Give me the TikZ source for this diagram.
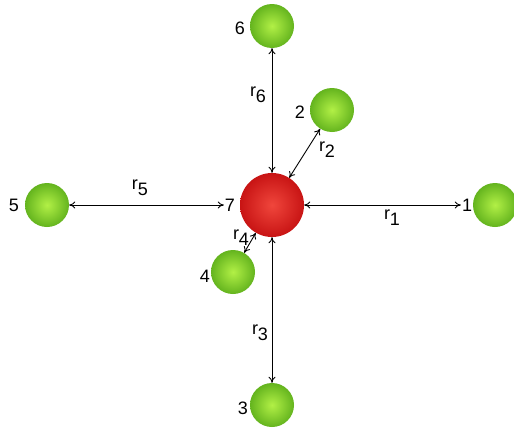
\documentclass[tikz,border=0pt]{standalone}
\usepackage{fontspec}
\setmainfont{Liberation Sans}
\usetikzlibrary{arrows.meta,positioning}
\definecolor{limein}{RGB}{178,240,70}
\definecolor{limeout}{RGB}{100,180,30}
\definecolor{redin}{RGB}{240,70,60}
\definecolor{redout}{RGB}{200,20,20}
\tikzset{
    atom/.style={circle, inner sep=0pt, minimum size=44pt,
        inner color=limein, outer color=limeout},
    coreatom/.style={circle, inner sep=0pt, minimum size=64pt,
        inner color=redin, outer color=redout},
    numlbl/.style={inner sep=1pt, font=\fontsize{18}{20}\selectfont},
    distlbl/.style={inner sep=1pt, font=\fontsize{18}{20}\selectfont},
    distarrow/.style={{To[length=6pt,width=7pt]}-{To[length=6pt,width=7pt]}, line width=0.9pt}
}
\newcommand{\rdist}[1]{r\raisebox{-6pt}{#1}}

\begin{document}
\begin{tikzpicture}[x=1pt, y=-1pt]
\useasboundingbox (0,0) rectangle (514,431);
\fill[white] (0,0) rectangle (514,431);
% atoms
\node[coreatom] (b7) at (272,205) {};
\node[atom] (b1) at (495,205) {};
\node[atom] (b2) at (332,110) {};
\node[atom] (b3) at (272,405) {};
\node[atom] (b4) at (233,272) {};
\node[atom] (b5) at (47,205) {};
\node[atom] (b6) at (272,26) {};
% numbers
\node[numlbl] (l1) at (467,205) {1};
\node[numlbl] (l2) at (300,112) {2};
\node[numlbl] (l3) at (243,408) {3};
\node[numlbl] (l4) at (205,276) {4};
\node[numlbl] (l5) at (14,205) {5};
\node[numlbl] (l6) at (240,28) {6};
\node[numlbl] (l7) at (230,205) {7};
% distances
\draw[distarrow] (b7) -- (l1);
\draw[distarrow] (b2) -- (b7);
\draw[distarrow] (b7) -- (b3);
\draw[distarrow] (b4) -- (b7);
\draw[distarrow] (b5) -- (l7);
\draw[distarrow] (b6) -- (b7);
\node[distlbl] (r1) at (392,218) {\rdist{1}};
\node[distlbl] (r2) at (327,150) {\rdist{2}};
\node[distlbl] (r3) at (260,333) {\rdist{3}};
\node[distlbl] (r4) at (241,238) {\rdist{4}};
\node[distlbl] (r5) at (140,188) {\rdist{5}};
\node[distlbl] (r6) at (258,95) {\rdist{6}};
\end{tikzpicture}
\end{document}
